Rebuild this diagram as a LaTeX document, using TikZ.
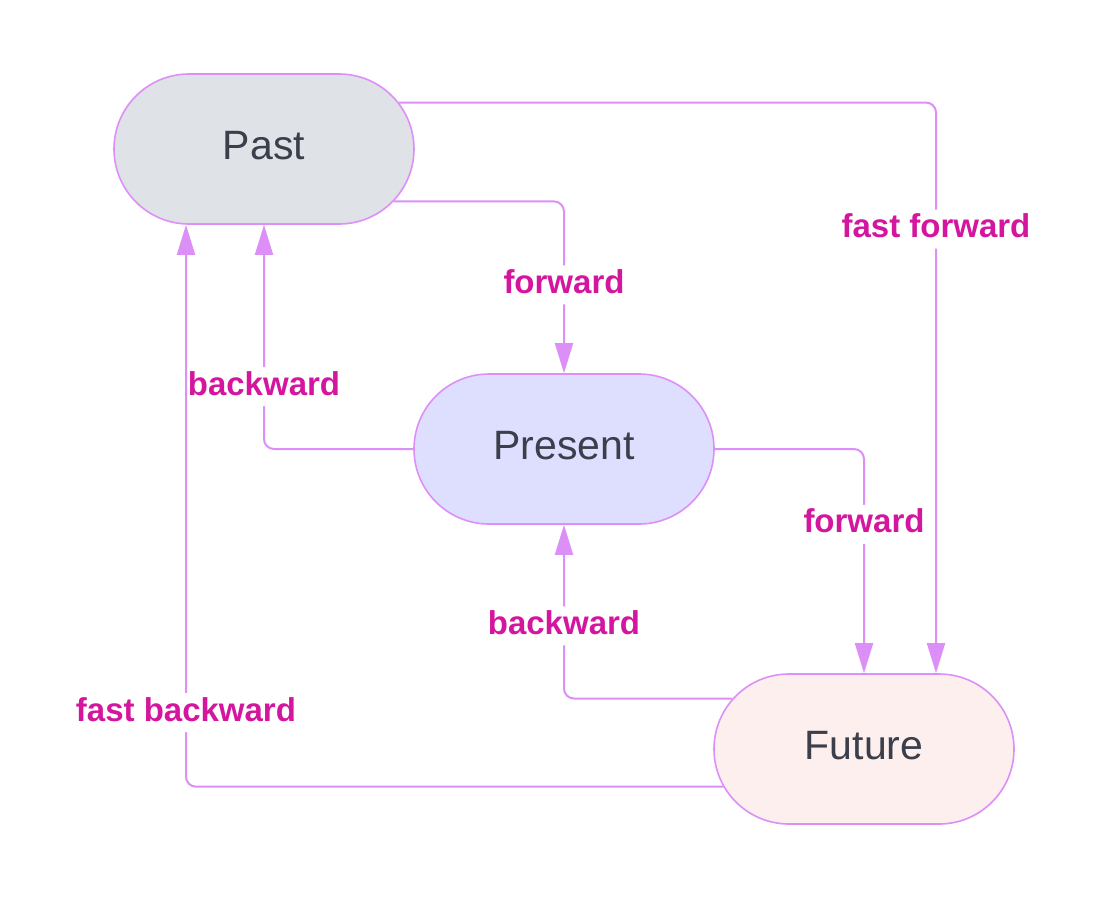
\documentclass[tikz,border=0pt]{standalone}
\usepackage{fontspec}
\setmainfont{Liberation Sans}
\usepackage{tikz}
\usetikzlibrary{arrows.meta,shapes.misc}
\definecolor{edgepink}{HTML}{DD8FF8}
\definecolor{labelpink}{HTML}{D4169F}
\definecolor{pastfill}{HTML}{DFE2E7}
\definecolor{presentfill}{HTML}{DEDEFF}
\definecolor{futurefill}{HTML}{FDEFEE}
\definecolor{nodetext}{HTML}{3B3F4B}
\tikzset{
	state/.style={rounded rectangle, draw=edgepink, line width=1.6pt, inner sep=0pt,
		minimum width=300pt, minimum height=150pt, text=nodetext,
		text height=30pt, text depth=9pt,
		font=\fontsize{41}{49}\selectfont},
	link/.style={draw=edgepink, line width=2pt, rounded corners=10pt,
		-{Triangle[length=30pt,width=18pt]}},
	lbl/.style={fill=white, text=labelpink, inner xsep=2pt, inner ysep=1pt,
		text height=27pt, text depth=10pt, font=\fontsize{33}{40}\selectfont\bfseries}
}

\begin{document}
\begin{tikzpicture}[x=1pt, y=-1pt]
		%%%%% START %%%%%
		
		\useasboundingbox[fill=white] (0, 0) rectangle (1106, 900);
		
		\node[state, fill=pastfill] (past) at (264, 149) {Past};
		\node[state, fill=presentfill] (present) at (564, 449) {Present};
		\node[state, fill=futurefill] (future) at (864, 749) {Future};
		
		% forward steps
		\draw[link] (past.-22.5) -| node[lbl, pos=0.743] {forward} (present.north);
		\draw[link] (present.east) -| node[lbl, pos=0.668] {forward} (future.north);
		\draw[link] (past.19.4) -| node[lbl, pos=0.611] {fast forward} ([xshift=72pt]future.north);
		
		% backward steps
		\draw[link] (present.west) -| node[lbl, pos=0.639] {backward} (past.south);
		\draw[link] (future.159.6) -| node[lbl, pos=0.709] {backward} (present.south);
		\draw[link] (future.195.7) -| node[lbl, pos=0.566] {fast backward} ([xshift=-78pt]past.south);
		
		%%%%% END %%%%%
	\end{tikzpicture}
\end{document}
